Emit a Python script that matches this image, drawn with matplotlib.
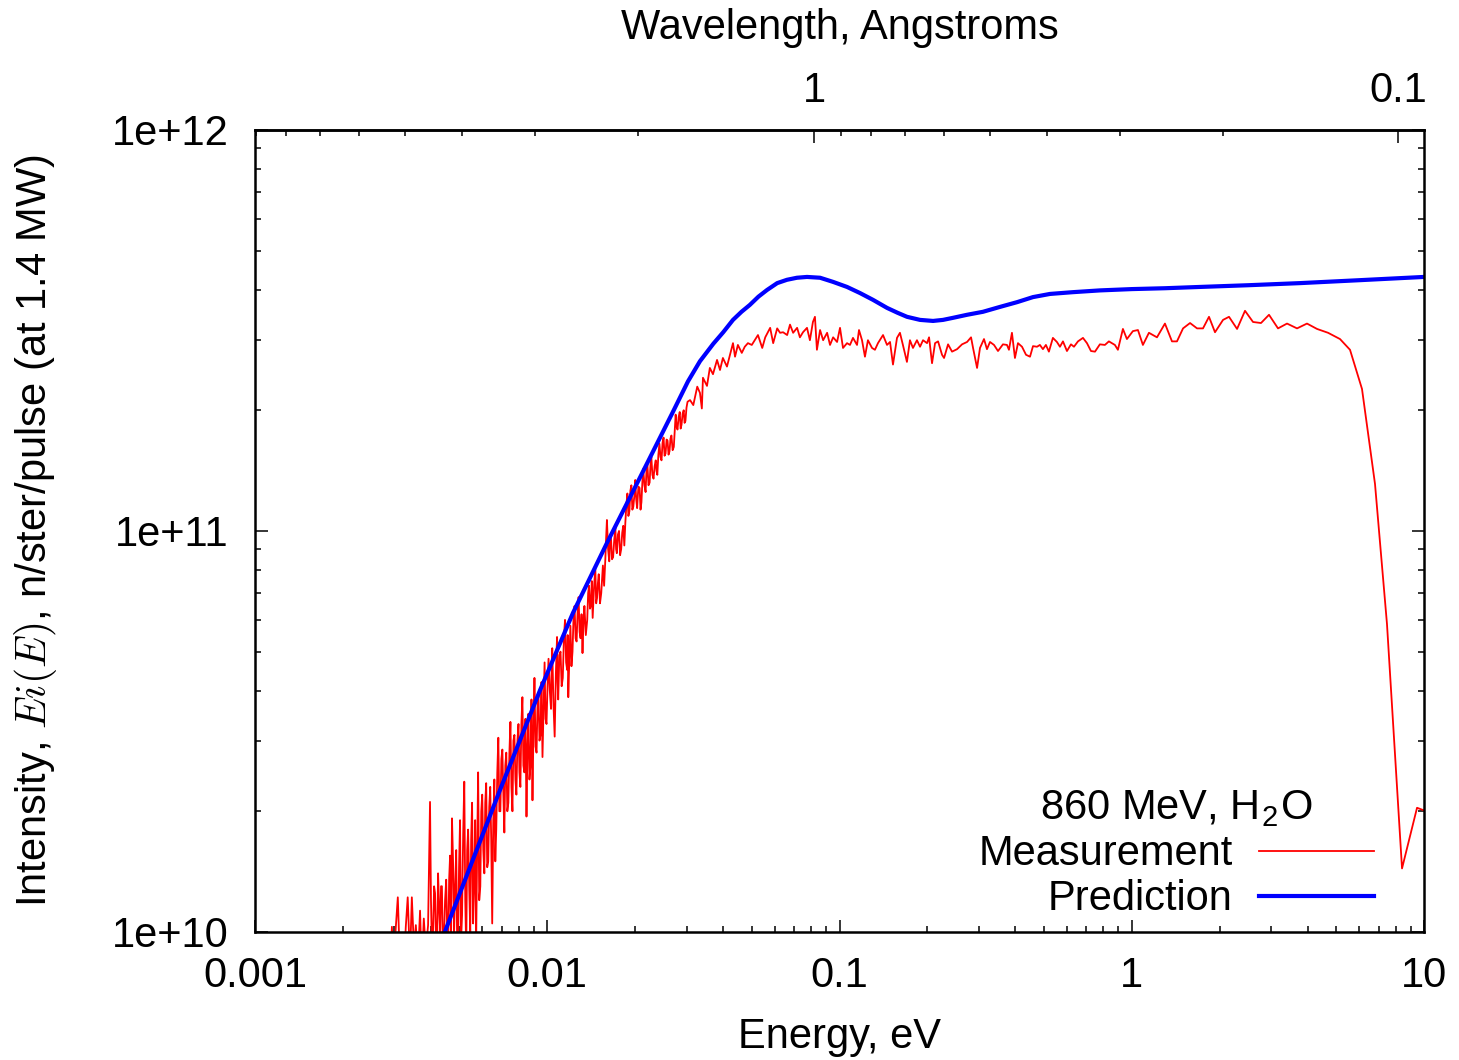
import numpy as np
import matplotlib
matplotlib.use('Agg')
import matplotlib.pyplot as plt
from matplotlib.lines import Line2D
from matplotlib.ticker import LogLocator, NullFormatter

plt.rcParams['font.family'] = ['Liberation Sans', 'DejaVu Sans']
plt.rcParams['mathtext.fontset'] = 'cm'

# E (eV) = NEUTRON_CONST / lambda^2 (Angstrom)
NEUTRON_CONST = 0.0818042
UNIT = 1e10

# measurement, dense low-energy part (intensity in units of 1e10)
low_energy = [
    0.00280, 0.00284, 0.00289, 0.00294, 0.00298, 0.00303, 0.00308, 0.00313, 0.00318, 0.00323,
    0.00328, 0.00333, 0.00339, 0.00344, 0.00350, 0.00355, 0.00361, 0.00367, 0.00372, 0.00378,
    0.00384, 0.00391, 0.00397, 0.00403, 0.00410, 0.00416, 0.00423, 0.00430, 0.00436, 0.00443,
    0.00451, 0.00458, 0.00465, 0.00472, 0.00480, 0.00488, 0.00495, 0.00503, 0.00511, 0.00520,
    0.00528, 0.00536, 0.00545, 0.00553, 0.00562, 0.00571, 0.00580, 0.00590, 0.00599, 0.00609,
    0.00618, 0.00628, 0.00638, 0.00648, 0.00659, 0.00669, 0.00680, 0.00691, 0.00702, 0.00713,
    0.00724, 0.00736, 0.00748, 0.00760, 0.00772, 0.00784, 0.00797, 0.00809, 0.00822, 0.00835,
    0.00849, 0.00862, 0.00876, 0.00890, 0.00904, 0.00919, 0.00933, 0.00948, 0.00963, 0.00979,
    0.00994, 0.0101, 0.0103, 0.0104, 0.0106, 0.0108, 0.0109, 0.0111, 0.0113, 0.0115,
    0.0117, 0.0118, 0.0120, 0.0122, 0.0124, 0.0126, 0.0128, 0.0130, 0.0132, 0.0134,
    0.0137, 0.0139, 0.0141, 0.0143, 0.0146, 0.0148, 0.0150, 0.0153, 0.0155, 0.0158,
    0.0160, 0.0163, 0.0165, 0.0168, 0.0171, 0.0173, 0.0176, 0.0179, 0.0182, 0.0185,
    0.0188, 0.0191, 0.0194, 0.0197, 0.0200, 0.0203, 0.0207, 0.0210, 0.0213, 0.0217,
    0.0220, 0.0224, 0.0227, 0.0231, 0.0235, 0.0238, 0.0242, 0.0246, 0.0250, 0.0254,
    0.0258, 0.0262, 0.0266, 0.0271, 0.0275, 0.0279, 0.0284, 0.0288, 0.0293, 0.0297,
    0.0302,
]
low_intensity = [
    0.7, 0.85, 0.75, 1.03, 0.8, 1.02, 1.22, 0.85,
    0.9, 0.8, 1.03, 1.22, 0.85, 1.22, 0.9, 1.04, 0.85, 1.13,
    0.8, 1.08, 0.9, 1.04,
    2.11,
    0.9, 1.3, 0.95, 1.40, 1.0, 1.3, 0.95, 1.35,
    0.9, 1.55, 1.92, 1.0, 1.6, 0.9,
    1.9, 1.1, 2.37, 0.9, 1.8, 1.0,
    2.1, 1.3, 0.95, 2.5, 1.3,
    2.2, 1.4, 2.35, 1.5, 2.3,
    1.05, 2.4,
    1.8, 3.05, 2.0, 2.85, 1.77, 2.8,
    2.1, 3.34, 2.0, 3.1, 2.2,
    3.3, 2.3, 3.85, 2.5, 1.94, 3.5,
    2.6, 2.13, 4.3, 2.8, 3.9,
    3.1, 2.73, 4.7, 3.3,
    4.8, 3.6, 5.1, 3.07, 5.44, 3.8, 5.0,
    4.3, 6.0, 4.5, 3.85, 5.8,
    5.0, 6.5, 5.3, 6.84, 5.4, 4.96, 6.5,
    6.0, 7.3, 6.5, 6.07, 8.1, 6.8, 7.8, 7.0, 8.2,
    8.5, 10.65, 8.4, 9.8, 8.6, 10.2, 8.8, 10.0, 9.0, 10.3,
    10.5, 12.4, 11.2, 13.0, 11.5, 13.4, 11.4, 12.8, 11.8,
    14.3, 12.5, 14.8, 13.2, 15.3, 13.5, 15.0, 13.8,
    16.5, 15.0, 17.1, 15.6, 16.8, 15.8, 17.3, 16.2,
    19.5, 17.9, 19.8, 18.4, 20.0, 18.8, 21.0,
]

# measurement points lying between the ones above (merged by energy below)
mid_energy = [
    0.00400, 0.004065, 0.00413, 0.004195, 0.004265, 0.00433, 0.004395, 0.00447, 0.004545,
    0.004615, 0.004685, 0.00476, 0.00484, 0.004915, 0.00499,
    0.00507, 0.005155, 0.00524, 0.00532, 0.005405, 0.00549,
    0.005575, 0.005665, 0.005755, 0.00585, 0.005945,
    0.00604, 0.006135, 0.00623, 0.00633, 0.00643, 0.006535, 0.00664,
    0.006745, 0.006855, 0.006965, 0.007075, 0.007185, 0.0073,
    0.00742, 0.00754, 0.00766, 0.00778, 0.007905,
    0.00803, 0.008155, 0.008285, 0.00842, 0.008555, 0.00869,
    0.00883, 0.00897, 0.009115, 0.00926, 0.009405,
    0.009555, 0.00971, 0.009865, 0.01002,
    0.0102, 0.01035, 0.0105, 0.0107, 0.01085, 0.0110, 0.0112,
    0.0114, 0.0116, 0.01175, 0.0119, 0.0121,
    0.0123, 0.0125, 0.0127, 0.0129, 0.0131, 0.0133, 0.01355,
    0.0138, 0.0140, 0.0142, 0.01445, 0.0147, 0.0149, 0.01515, 0.0154, 0.01565,
    0.0159, 0.01615, 0.0164, 0.01665, 0.01695, 0.0172, 0.01745, 0.01775, 0.01805, 0.01835,
    0.01865, 0.01895, 0.01925, 0.01955, 0.01985, 0.02015, 0.0205, 0.02085, 0.02115,
    0.0215, 0.02185, 0.0222, 0.02255, 0.0229, 0.0233, 0.02365, 0.024,
    0.0244, 0.0248, 0.0252, 0.0256, 0.026, 0.0264, 0.02685, 0.0273,
    0.0277, 0.02815, 0.0286, 0.02905, 0.0295, 0.02995,
]
mid_intensity = [
    1.2, 1.0, 1.25, 0.9, 1.15, 1.3, 0.9, 1.2, 1.0,
    1.35, 0.95, 1.5, 1.3, 0.95, 1.45,
    0.95, 1.75, 1.2, 1.6, 1.3, 1.7,
    1.05, 1.9, 1.6, 1.2, 2.0,
    1.6, 2.1, 1.45, 2.05, 1.7, 1.9, 1.5,
    2.5, 2.0, 2.7, 2.2, 2.6, 2.0,
    2.8, 2.3, 3.0, 2.4, 3.0,
    2.5, 3.3, 2.6, 3.4, 2.9, 2.4,
    3.8, 3.2, 2.9, 3.7, 3.0,
    4.2, 3.6, 3.4, 4.1,
    4.0, 4.6, 3.7, 4.4, 4.2, 4.9, 4.1,
    5.4, 4.7, 5.5, 4.8, 4.6,
    6.1, 5.4, 6.3, 5.6, 6.2, 5.9, 5.5,
    7.0, 6.4, 7.5, 7.2, 6.6, 7.4, 6.6, 7.6, 7.3,
    9.6, 9.0, 9.7, 8.5, 9.5, 9.0, 9.8, 8.7, 9.9, 9.2,
    11.6, 10.9, 12.6, 11.3, 12.2, 12.0, 12.9, 11.3, 13.2,
    13.0, 14.2, 13.0, 14.6, 13.8, 14.5, 14.1, 15.5,
    15.3, 16.6, 15.4, 16.9, 15.5, 17.0, 15.9, 17.8,
    18.2, 19.2, 18.0, 19.6, 18.6, 20.3,
]

# measurement, plateau and cut-off
high_energy = [
    0.0308, 0.0316, 0.0326, 0.0333, 0.0338, 0.0341, 0.0352, 0.0360, 0.0369, 0.0381,
    0.0390, 0.0399, 0.0412, 0.0422, 0.0432, 0.0439, 0.0449, 0.0463, 0.0474, 0.0486,
    0.0501, 0.0513, 0.0526, 0.0544, 0.0557, 0.0579, 0.0593, 0.0612, 0.0626, 0.0641,
    0.0662, 0.0677, 0.0694, 0.0716, 0.0732, 0.0750, 0.0774, 0.0792, 0.0811, 0.0824,
    0.0837, 0.0858, 0.0879, 0.0907, 0.0928, 0.0951, 0.0981, 0.1004, 0.1028, 0.1061,
    0.1086, 0.1112, 0.1148, 0.1166, 0.1194, 0.1222, 0.1251, 0.1292, 0.1322, 0.1354,
    0.1409, 0.1454, 0.1489, 0.1524, 0.1573, 0.161, 0.1648, 0.1701, 0.1742, 0.1784,
    0.1841, 0.1886, 0.1931, 0.1993, 0.2025, 0.2073, 0.2123, 0.2174, 0.2243, 0.2279,
    0.2352, 0.2427, 0.2525, 0.2626, 0.2732, 0.2819, 0.2864, 0.2956, 0.3025, 0.3122,
    0.3196, 0.3273, 0.3378, 0.3486, 0.3625, 0.3741, 0.3800, 0.3891, 0.3984, 0.4080,
    0.4212, 0.4347, 0.4486, 0.4593, 0.4741, 0.485, 0.4966, 0.5085, 0.5206, 0.5373,
    0.5545, 0.568, 0.5816, 0.6002, 0.6195, 0.6343, 0.6546, 0.6809, 0.7027, 0.7252,
    0.7485, 0.778, 0.8093, 0.8352, 0.8756, 0.8966, 0.9328, 0.9627, 1.009, 1.050,
    1.092, 1.145, 1.220, 1.299, 1.373, 1.428, 1.498, 1.583, 1.673, 1.753,
    1.838, 1.927, 2.053, 2.152, 2.293, 2.441, 2.600, 2.769, 2.949, 3.166,
    3.399, 3.678, 3.978, 4.305, 4.697, 5.16, 5.583, 6.136, 6.798, 7.471,
    8.411, 9.467, 10.0,
]
high_intensity = [
    21.2, 20.6, 22.9, 22.1, 20.2, 24.1, 23.0, 25.5, 24.6, 26.7,
    25.2, 27.0, 25.7, 27.5, 29.4, 27.2, 29.1, 27.8, 28.8, 29.4,
    29.1, 29.9, 30.8, 28.6, 30.4, 32.1, 29.4, 32.0, 31.2, 31.3,
    30.8, 32.7, 31.2, 32.1, 30.4, 31.3, 32.1, 29.9, 33.2, 34.2,
    28.3, 31.7, 29.9, 31.2, 29.1, 30.4, 29.6, 32.1, 28.6, 29.4,
    29.1, 30.3, 29.1, 31.7, 29.9, 27.2, 29.9, 28.6, 28.3, 29.4,
    30.8, 29.1, 29.6, 26.0, 30.3, 31.2, 29.1, 26.4, 29.9, 28.6,
    29.9, 28.8, 29.9, 29.4, 30.4, 26.2, 29.4, 29.7, 27.5, 27.0,
    29.2, 28.0, 28.4, 29.2, 29.6, 30.4, 28.6, 25.5, 28.6, 30.1,
    28.4, 29.6, 29.1, 28.1, 29.2, 29.1, 28.3, 31.2, 27.0, 29.4,
    28.8, 27.5, 27.2, 28.9, 28.8, 29.1, 28.4, 29.1, 28.0, 30.3,
    29.6, 28.8, 29.7, 28.1, 29.2, 28.8, 29.7, 30.3, 29.4, 28.1,
    28.0, 29.2, 29.1, 29.7, 29.1, 28.3, 31.9, 30.1, 31.5, 31.7,
    29.1, 31.2, 30.4, 32.9, 29.7, 29.7, 32.0, 33.0, 32.0, 32.0,
    34.2, 31.3, 33.6, 34.2, 31.9, 35.4, 33.2, 33.0, 34.6, 32.0,
    32.9, 32.0, 32.9, 31.9, 31.2, 30.1, 28.3, 22.6, 13.1, 5.86,
    1.44, 2.04, 2.01,
]

pred_energy = [
    0.0040, 0.00446, 0.00689, 0.00945, 0.01225, 0.0160, 0.02077, 0.0269, 0.0303, 0.0333,
    0.0370, 0.0400, 0.0432, 0.0462, 0.0493, 0.0528, 0.0565, 0.0612, 0.0661, 0.0715,
    0.0774, 0.0858, 0.0950, 0.1061, 0.1175, 0.1302, 0.1454, 0.158, 0.1702, 0.1886,
    0.209, 0.226, 0.2445, 0.2732, 0.3097, 0.354, 0.405, 0.4593, 0.525, 0.6293,
    0.778, 1.0, 1.3, 1.712, 2.5, 3.765, 6.0, 10.0,
]
pred_intensity = [
    0.815, 1.00, 2.26, 4.01, 6.25, 9.33, 13.6, 19.8, 23.6, 26.5,
    29.3, 31.3, 33.6, 35.2, 36.6, 38.4, 39.9, 41.5, 42.3, 42.8,
    43.0, 42.8, 41.8, 40.6, 39.2, 37.7, 36.0, 35.0, 34.2, 33.6,
    33.4, 33.6, 34.0, 34.6, 35.2, 36.2, 37.2, 38.3, 39.0, 39.4,
    39.8, 40.1, 40.3, 40.6, 41.0, 41.5, 42.2, 43.0,
]

x_ticks = [0.001, 0.01, 0.1, 1, 10]
x_tick_labels = ['0.001', '0.01', '0.1', '1', '10']
y_ticks = [1e10, 1e11, 1e12]
y_tick_labels = ['1e+10', '1e+11', '1e+12']
wl_ticks = [0.1, 1]
wl_tick_labels = ['0.1', '1']

FS = 30


def energy_to_wavelength(e):
    e = np.asarray(e, dtype=float)
    with np.errstate(divide='ignore', invalid='ignore'):
        return np.sqrt(NEUTRON_CONST / e)


def wavelength_to_energy(lam):
    lam = np.asarray(lam, dtype=float)
    with np.errstate(divide='ignore', invalid='ignore'):
        return NEUTRON_CONST / lam ** 2


meas_e = np.array(low_energy + mid_energy + high_energy)
meas_i = np.array(low_intensity + mid_intensity + high_intensity) * UNIT
order = np.argsort(meas_e, kind='stable')
meas_e, meas_i = meas_e[order], meas_i[order]
pred_e = np.array(pred_energy)
pred_i = np.array(pred_intensity) * UNIT

fig = plt.figure(figsize=(14.59, 10.60), dpi=100)
ax = fig.add_axes([0.1748, 0.1208, 0.976 - 0.1748, 0.8774 - 0.1208])

ax.plot(meas_e, meas_i, color='#ff0000', linewidth=1.3)
ax.plot(pred_e, pred_i, color='#0000ff', linewidth=3.0)

ax.set_xscale('log')
ax.set_yscale('log')
ax.set_xlim(0.001, 10)
ax.set_ylim(1e10, 1e12)

ax.set_xticks(x_ticks, labels=x_tick_labels)
ax.set_yticks(y_ticks, labels=y_tick_labels)
ax.xaxis.set_minor_locator(LogLocator(base=10, subs=np.arange(2, 10)))
ax.yaxis.set_minor_locator(LogLocator(base=10, subs=np.arange(2, 10)))
ax.xaxis.set_minor_formatter(NullFormatter())
ax.yaxis.set_minor_formatter(NullFormatter())

ax.tick_params(which='both', direction='in', top=False, right=True, width=1.1)
ax.tick_params(which='major', length=9, labelsize=FS)
ax.tick_params(which='minor', length=4.5)
ax.tick_params(axis='x', which='major', pad=17)
ax.tick_params(axis='y', which='major', pad=19)
for spine in ax.spines.values():
    spine.set_linewidth(1.8)

ax.set_xlabel('Energy, eV', fontsize=FS)
ax.xaxis.set_label_coords(0.5, -0.106)
ax.set_ylabel('Intensity, $Ei(E)$, n/ster/pulse (at 1.4 MW)', fontsize=FS)
ax.yaxis.set_label_coords(-0.168, 0.5)

sec = ax.secondary_xaxis('top', functions=(energy_to_wavelength, wavelength_to_energy))
sec.set_ticks(wl_ticks, labels=wl_tick_labels)
sec.xaxis.set_minor_locator(LogLocator(base=10, subs=np.arange(2, 10)))
sec.xaxis.set_minor_formatter(NullFormatter())
sec.tick_params(which='both', direction='in', width=1.1)
sec.tick_params(which='major', length=9, labelsize=FS, pad=14)
sec.tick_params(which='minor', length=4.5)
sec.spines['top'].set_linewidth(1.8)
sec.set_xlabel('Wavelength, Angstroms', fontsize=FS, labelpad=23)

handles = [
    Line2D([], [], color='#ff0000', linewidth=1.3),
    Line2D([], [], color='#0000ff', linewidth=3.0),
]
ax.legend(handles, ['Measurement', 'Prediction'],
          title='860 MeV, H$_\\mathregular{2}$O', title_fontsize=FS,
          fontsize=FS, loc='lower right', bbox_to_anchor=(0.968, 0.0),
          frameon=False, markerfirst=False,
          handlelength=2.75, handletextpad=0.65, labelspacing=0.12,
          borderaxespad=0.0, borderpad=0.3)

fig.savefig('out.png', dpi=100)
